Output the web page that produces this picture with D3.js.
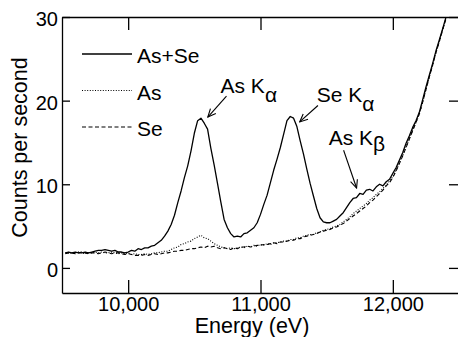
<!DOCTYPE html>
<html>
<head>
<meta charset="utf-8">
<script src="https://cdn.jsdelivr.net/npm/d3@7"></script>
<style>
  body { margin: 0; background: #fff; }
  svg { display: block; }
  text { font-family: "Liberation Sans", Arial, sans-serif; fill: #000; }
</style>
</head>
<body>
<svg id="chart" width="458" height="337"></svg>
<script>
// energy grid (eV)
const energy = [
  9525,9550,9575,9600,9625,9650,9675,9700,9725,9750,9775,9800,9825,9850,9875,9900,9925,9950,9975,10000,
  10025,10050,10075,10100,10125,10150,10175,10200,10225,10250,10275,10300,10325,10350,10375,10400,10425,10450,10475,10500,
  10525,10550,10575,10600,10625,10650,10675,10700,10725,10750,10775,10800,10825,10850,10875,10900,10925,10950,10975,11000,
  11025,11050,11075,11100,11125,11150,11175,11200,11225,11250,11275,11300,11325,11350,11375,11400,11425,11450,11475,11500,
  11525,11550,11575,11600,11625,11650,11675,11700,11725,11750,11775,11800,11825,11850,11875,11900,11925,11950,11975,12000,
  12025,12050,12075,12100,12125,12150,12175,12200,12225,12250,12275,12300,12325,12350,12375,12400
];

// counts per second
const asSe = [
  1.8,1.9,1.8,1.9,1.8,1.8,1.9,1.8,1.9,2.0,2.1,2.1,2.2,2.1,2.0,2.1,1.9,1.9,1.8,1.9,
  2.1,2.0,2.3,2.2,2.4,2.4,2.6,2.7,3.0,3.3,3.8,4.4,5.2,6.3,7.8,9.2,10.8,12.2,14.0,16.1,
  17.6,17.9,17.3,16.6,14.3,12.3,10.1,7.9,5.8,4.8,4.1,3.7,3.8,3.7,4.1,4.2,4.5,4.8,5.4,6.4,
  7.6,8.7,10.2,11.7,13.0,14.4,16.0,17.6,18.1,17.9,16.9,15.2,13.6,11.8,10.1,8.6,7.1,6.0,5.5,5.4,
  5.4,5.6,5.8,6.2,6.6,7.2,7.8,8.3,8.4,8.9,8.8,9.3,9.4,9.2,9.7,10.0,9.8,10.3,10.6,11.3,
  12.0,12.9,13.8,14.9,15.8,16.8,17.6,18.6,20.1,21.6,23.0,24.4,25.9,27.2,28.5,29.9
];
const asOnly = [
  1.8,1.8,1.7,1.8,1.9,1.8,1.7,1.8,1.8,1.9,1.8,1.9,1.8,1.8,1.9,1.8,1.7,1.8,1.7,1.8,
  1.6,1.7,1.6,1.6,1.7,1.6,1.7,1.8,1.8,1.9,2.0,2.0,2.2,2.4,2.5,2.8,2.9,3.1,3.2,3.5,
  3.7,3.9,3.6,3.5,3.2,2.9,2.7,2.5,2.4,2.3,2.4,2.3,2.4,2.5,2.4,2.6,2.5,2.7,2.6,2.8,
  2.7,2.9,2.8,3.0,3.0,3.1,3.2,3.2,3.4,3.4,3.6,3.6,3.8,3.9,4.0,4.0,4.2,4.3,4.5,4.6,
  4.7,4.9,5.0,5.2,5.5,5.8,6.1,6.5,6.8,7.1,7.4,7.7,8.1,8.4,8.8,9.1,9.5,9.9,10.4,10.9,
  11.7,12.6,13.5,14.5,15.5,16.5,17.4,18.4,19.8,21.3,22.8,24.2,25.7,27.0,28.4,29.7
];
const seOnly = [
  1.7,1.8,1.8,1.7,1.8,1.9,1.8,1.7,1.8,1.8,1.7,1.8,1.9,1.8,1.7,1.8,1.8,1.7,1.6,1.7,
  1.6,1.5,1.5,1.5,1.6,1.5,1.6,1.7,1.6,1.7,1.8,1.8,1.9,2.0,2.0,2.1,2.1,2.2,2.3,2.3,
  2.4,2.5,2.4,2.6,2.5,2.6,2.4,2.3,2.4,2.3,2.2,2.4,2.3,2.5,2.5,2.6,2.5,2.6,2.7,2.7,
  2.8,2.8,2.9,3.0,2.9,3.1,3.1,3.2,3.3,3.3,3.5,3.5,3.7,3.8,3.9,4.0,4.1,4.3,4.4,4.5,
  4.6,4.8,4.9,5.1,5.3,5.6,5.9,6.2,6.5,6.8,7.1,7.4,7.8,8.1,8.5,8.9,9.3,9.8,10.2,10.8,
  11.6,12.5,13.4,14.4,15.4,16.4,17.4,18.4,19.8,21.3,22.8,24.2,25.7,27.0,28.4,29.7
];

const seriesNames = ['As+Se', 'As', 'Se'];
const xTicks = [10000, 11000, 12000];
const yTicks = [0, 10, 20, 30];

// peak annotations: label position, arrow start, arrow tip (data units)
const annLabel = ['As K', 'Se K', 'As K'];
const annSub = ['\u03B1', '\u03B1', '\u03B2'];
const annTextE = [10698, 11425, 11515];
const annTextC = [20.97, 19.78, 14.69];
const annFromE = [10743, 11434, 11628];
const annFromC = [20.55, 19.42, 14.07];
const annToE = [10602, 11296, 11726];
const annToC = [18.04, 17.45, 9.55];

const margin = {top: 17, right: -1, bottom: 44, left: 62},
  W = 458, H = 337,
  width = W - margin.left - margin.right,
  height = H - margin.top - margin.bottom;

const svg = d3.select('#chart');
const g = svg.append('g').attr('transform', 'translate(' + margin.left + ',' + margin.top + ')');

const x = d3.scaleLinear().domain([9500, 12500]).range([0, width]);
const y = d3.scaleLinear().domain([-3, 30]).range([height, 0]);

svg.append('defs').append('clipPath').attr('id', 'plot')
  .append('rect').attr('width', width).attr('height', height);

const marker = svg.select('defs').append('marker')
  .attr('id', 'head')
  .attr('viewBox', '-9 -5 10 10')
  .attr('refX', 0).attr('refY', 0)
  .attr('markerWidth', 10).attr('markerHeight', 10)
  .attr('markerUnits', 'userSpaceOnUse')
  .attr('orient', 'auto');
marker.append('path')
  .attr('d', 'M-8,-3.6L0,0L-8,3.6')
  .attr('fill', 'none').attr('stroke', '#000').attr('stroke-width', 1.1);

// axes
const fs = '21px', tickFs = '20px';
const styleAxis = sel => {
  sel.attr('font-family', null).attr('font-size', null);
  sel.select('.domain').attr('stroke', '#000').attr('stroke-width', 1.3);
  sel.selectAll('.tick line').attr('stroke', '#000').attr('stroke-width', 1.3);
  sel.selectAll('text').style('font-size', tickFs).attr('fill', '#000');
};

g.append('g').attr('transform', 'translate(0,' + height + ')')
  .call(d3.axisBottom(x).tickValues(xTicks).tickSize(-13).tickSizeOuter(0)
    .tickPadding(4).tickFormat(d3.format(',')))
  .call(styleAxis);

g.append('g')
  .call(d3.axisTop(x).tickValues(xTicks).tickSize(-13).tickSizeOuter(0).tickFormat(''))
  .call(styleAxis);

g.append('g')
  .call(d3.axisLeft(y).tickValues(yTicks).tickSize(-8).tickSizeOuter(0).tickPadding(4))
  .call(styleAxis)
  .call(a => a.selectAll('text').attr('dy', '0.42em'));

g.append('g').attr('transform', 'translate(' + width + ',0)')
  .call(d3.axisRight(y).tickValues(yTicks).tickSize(-10).tickSizeOuter(0).tickFormat(''))
  .call(styleAxis);

// curves
const styles = [
  {data: asSe, width: 1.3, dash: null},
  {data: asOnly, width: 1.1, dash: '1,1.6'},
  {data: seOnly, width: 1.1, dash: '4,2.5'}
];
const line = d3.line().x((d, i) => x(energy[i])).y(d => y(d));

g.append('g').attr('clip-path', 'url(#plot)')
  .selectAll('path').data(styles.slice().reverse()).join('path')
  .attr('d', s => line(s.data))
  .attr('fill', 'none')
  .attr('stroke', '#000')
  .attr('stroke-width', s => s.width)
  .attr('stroke-dasharray', s => s.dash)
  .attr('stroke-linejoin', 'round');

// legend
const leg = g.append('g').attr('transform', 'translate(20,37)');
seriesNames.forEach((name, i) => {
  const row = leg.append('g').attr('transform', 'translate(0,' + (i * 36.5) + ')');
  row.append('line').attr('x1', 0).attr('x2', 50).attr('y1', 0).attr('y2', 0)
    .attr('stroke', '#000').attr('stroke-width', styles[i].width)
    .attr('stroke-dasharray', styles[i].dash);
  row.append('text').attr('x', 55).attr('y', 9).style('font-size', fs).text(name);
});

// annotations
annLabel.forEach((lab, i) => {
  const t = g.append('text').attr('x', x(annTextE[i])).attr('y', y(annTextC[i]))
    .style('font-size', fs);
  t.append('tspan').text(lab);
  t.append('tspan').attr('dy', i === 2 ? 6 : 9).text(annSub[i]);
  g.append('line')
    .attr('x1', x(annFromE[i])).attr('y1', y(annFromC[i]))
    .attr('x2', x(annToE[i])).attr('y2', y(annToC[i]))
    .attr('stroke', '#000').attr('stroke-width', 1.1)
    .attr('marker-end', 'url(#head)');
});

// axis titles
svg.append('text').attr('x', 252).attr('y', 333)
  .attr('text-anchor', 'middle').style('font-size', '21.5px').text('Energy (eV)');
svg.append('text').attr('transform', 'translate(27,147.5) rotate(-90)')
  .attr('text-anchor', 'middle').style('font-size', '21.5px').text('Counts per second');
</script>
</body>
</html>
